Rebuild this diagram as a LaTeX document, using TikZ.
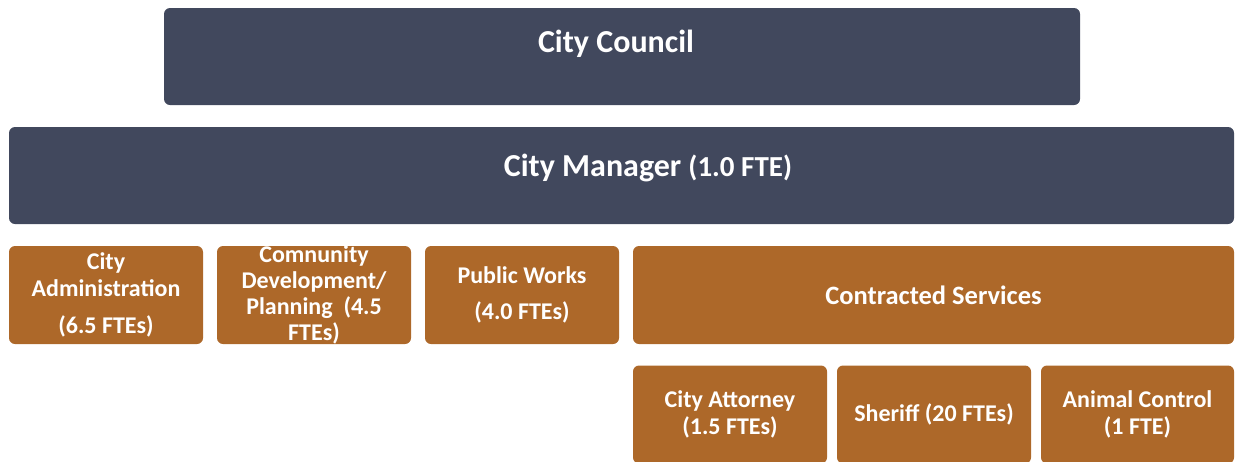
\documentclass[tikz,border=0pt]{standalone}
\usepackage{fontspec}
\setmainfont{Carlito}
\usepackage{xcolor}

\definecolor{slate}{RGB}{65,72,93}
\definecolor{rust}{RGB}{173,104,41}

\tikzset{
  unit/.style={rounded corners=6pt,inner sep=0pt,text=white,align=center,
    font=\bfseries\fontsize{24}{27}\selectfont},
  head/.style={unit,fill=slate,minimum height=97pt},
  dept/.style={unit,fill=rust,minimum height=98pt,minimum width=194pt}
}

\begin{document}
\begin{tikzpicture}[x=1pt,y=-1pt]
            \useasboundingbox (0,0) rectangle (1235,461);

            % top of the chart
            \node (council) at (622,56.5) [head,minimum width=916pt] {};
            \node at (616,44) [font=\bfseries\fontsize{32}{36}\selectfont,text=white] {City Council};
            \node (manager) at (621.5,175.5) [head,minimum width=1225pt] {};
            \node at (648,168) [font=\bfseries\fontsize{32}{36}\selectfont,text=white]
                {City Manager {\fontsize{29}{32}\selectfont(1.0 FTE)}};

            % departments
            \node (admin) at (106,295) [dept] {City\\Administration\\[10pt](6.5 FTEs)};
            \node (cdev) at (314,295) [dept,inner ysep=-8pt,text height=80pt] {};
            \node at (cdev.center) [font=\bfseries\fontsize{24}{26}\selectfont,text=white,align=center]
                {Comnunity\\Development/\\Planning\ \ (4.5\\FTEs)};
            \node (works) at (522,295) [dept] {Public Works\\[9pt](4.0 FTEs)};
            \node (contract) at (933.5,295) [dept,minimum width=601pt,
                font=\bfseries\fontsize{26.5}{30}\selectfont] {Contracted Services};

            % contracted services
            \node (attorney) at (730,414.5) [dept] {City Attorney\\(1.5 FTEs)};
            \node (sheriff) at (934,414.5) [dept] {Sheriff (20 FTEs)};
            \node (animal) at (1137.5,414.5) [dept,minimum width=193pt] {Animal Control\\(1 FTE)};
        \end{tikzpicture}
\end{document}
